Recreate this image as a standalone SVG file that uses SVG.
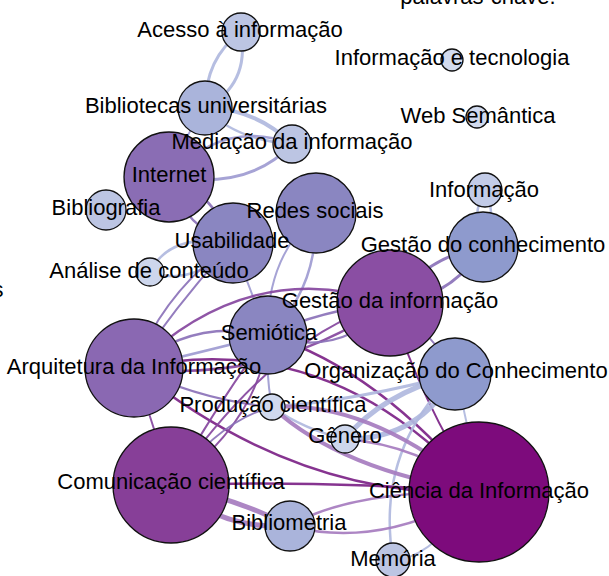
<svg xmlns="http://www.w3.org/2000/svg" width="609" height="576" viewBox="0 0 609 576">
<style>
.e{fill:none;stroke-linecap:round;opacity:0.92}
.lb{stroke:#b0b8de}
.lv{stroke:#9e9bd1}
.pm{stroke:#8b72b8}
.pd{stroke:#86469e}
.dk{stroke:#7c2387}
.mv{stroke:#a67cbf}
.n{stroke:#111;stroke-width:1.3}
text{font-family:"Liberation Sans",Arial,sans-serif;font-size:22px;fill:#000;text-anchor:middle}
</style>
<rect width="609" height="576" fill="#fff"/>
<g id="connectors">
<path class="e lb" stroke-width="3" d="M241,32 Q205,58 205,108"/>
<path class="e lb" stroke-width="3" d="M241,32 Q250,85 205,108"/>
<path class="e lb" stroke-width="4" d="M205,108 Q255,108 292,144"/>
<path class="e lb" stroke-width="2.5" d="M205,108 Q235,140 292,144"/>
<path class="e lv" stroke-width="2.5" d="M169,177 Q225,118 292,144"/>
<path class="e lv" stroke-width="3" d="M169,177 Q250,190 292,144"/>
<path class="e lv" stroke-width="2" d="M205,108 Q185,135 169,177"/>
<path class="e pm" stroke-width="2.5" d="M169,177 Q215,195 233,243"/>
<path class="e pm" stroke-width="2.5" d="M169,177 Q185,230 233,243"/>
<path class="e lb" stroke-width="2.5" d="M150,272 Q170,232 233,243"/>
<path class="e lb" stroke-width="2.5" d="M150,272 Q195,288 233,243"/>
<path class="e lv" stroke-width="2" d="M233,243 Q250,290 268,335"/>
<path class="e lv" stroke-width="2.5" d="M316,213 Q318,290 268,335"/>
<path class="e lv" stroke-width="2" d="M316,213 Q265,260 268,335"/>
<path class="e pm" stroke-width="3" d="M390,303 Q430,255 483,247"/>
<path class="e pm" stroke-width="3" d="M390,303 Q450,300 483,247"/>
<path class="e lb" stroke-width="2.5" d="M483,247 Q470,215 485,190"/>
<path class="e lb" stroke-width="2.5" d="M483,247 Q498,215 485,190"/>
<path class="e pm" stroke-width="2" d="M390,303 Q430,330 455,374"/>
<path class="e pm" stroke-width="2.5" d="M134,368 Q190,318 268,335"/>
<path class="e lv" stroke-width="2.5" d="M134,368 Q210,350 268,335"/>
<path class="e pm" stroke-width="2" d="M134,368 Q180,300 233,243"/>
<path class="e pm" stroke-width="2" d="M134,368 Q165,290 233,243"/>
<path class="e pd" stroke-width="2.5" d="M134,368 Q250,255 390,303"/>
<path class="e pd" stroke-width="2.5" d="M134,368 Q270,385 390,303"/>
<path class="e pm" stroke-width="2.5" d="M268,335 Q320,310 390,303"/>
<path class="e pm" stroke-width="2" d="M268,335 Q340,360 390,303"/>
<path class="e dk" stroke-width="2.5" d="M134,368 Q330,325 479,492"/>
<path class="e dk" stroke-width="2.5" d="M268,335 Q380,370 479,492"/>
<path class="e dk" stroke-width="2" d="M390,303 Q420,400 479,492"/>
<path class="e lb" stroke-width="2" d="M455,374 Q470,430 479,492"/>
<path class="e lb" stroke-width="2.5" d="M455,374 Q375,450 393,560"/>
<path class="e lb" stroke-width="2" d="M393,560 Q430,560 479,492"/>
<path class="e lb" stroke-width="5" d="M345,439 Q380,395 455,374"/>
<path class="e lb" stroke-width="5" d="M345,439 Q420,440 455,374"/>
<path class="e lb" stroke-width="2.5" d="M272,407 Q305,430 345,439"/>
<path class="e lb" stroke-width="3" d="M272,407 Q360,400 455,374"/>
<path class="e mv" stroke-width="4" d="M272,407 Q370,400 479,492"/>
<path class="e mv" stroke-width="4" d="M272,407 Q340,470 479,492"/>
<path class="e dk" stroke-width="2.5" d="M171,485 Q320,480 479,492"/>
<path class="e dk" stroke-width="2.5" d="M134,368 Q300,500 479,492"/>
<path class="e pd" stroke-width="2" d="M134,368 Q155,430 171,485"/>
<path class="e pm" stroke-width="2" d="M134,368 Q200,400 272,407"/>
<path class="e pd" stroke-width="2" d="M171,485 Q220,400 268,335"/>
<path class="e pd" stroke-width="2" d="M171,485 Q260,420 268,335"/>
<path class="e pd" stroke-width="2" d="M171,485 Q280,330 390,303"/>
<path class="e pm" stroke-width="2" d="M171,485 Q220,420 272,407"/>
<path class="e mv" stroke-width="5" d="M171,485 Q240,500 290,526"/>
<path class="e mv" stroke-width="5" d="M171,485 Q220,530 290,526"/>
<path class="e mv" stroke-width="2.5" d="M290,526 Q350,490 479,492"/>
<path class="e mv" stroke-width="2.5" d="M290,526 Q380,550 479,492"/>
<path class="e lv" stroke-width="2" d="M272,407 Q265,370 268,335"/>
<path class="e mv" stroke-width="2.5" d="M345,439 Q420,445 479,492"/>
</g>
<g id="node-acesso"><circle class="n" cx="241" cy="32" r="19" fill="#bcc5e3"/></g>
<g id="node-bibliotecas"><circle class="n" cx="205" cy="108" r="27" fill="#aab4db"/></g>
<g id="node-mediacao"><circle class="n" cx="292" cy="144" r="19" fill="#bcc5e3"/></g>
<g id="node-internet"><circle class="n" cx="169" cy="177" r="45" fill="#8a6db4"/></g>
<g id="node-bibliografia"><circle class="n" cx="106" cy="210" r="20" fill="#bcc5e3"/></g>
<g id="node-redes"><circle class="n" cx="316" cy="213" r="40" fill="#8a86c1"/></g>
<g id="node-usabilidade"><circle class="n" cx="233" cy="243" r="40" fill="#8a86c1"/></g>
<g id="node-analise"><circle class="n" cx="150" cy="272" r="14" fill="#cdd6ec"/></g>
<g id="node-info-tec"><circle class="n" cx="452" cy="60" r="11" fill="#d2dbef"/></g>
<g id="node-web"><circle class="n" cx="477" cy="117" r="11" fill="#d2dbef"/></g>
<g id="node-informacao"><circle class="n" cx="485" cy="190" r="17" fill="#c2cbe7"/></g>
<g id="node-gestao-conhecimento"><circle class="n" cx="483" cy="247" r="35" fill="#8e9acd"/></g>
<g id="node-gestao-informacao"><circle class="n" cx="390" cy="303" r="53" fill="#8a4ea3"/></g>
<g id="node-semiotica"><circle class="n" cx="268" cy="335" r="39" fill="#8a86c1"/></g>
<g id="node-arquitetura"><circle class="n" cx="134" cy="368" r="49" fill="#8a68b2"/></g>
<g id="node-organizacao"><circle class="n" cx="455" cy="374" r="36" fill="#8e9acd"/></g>
<g id="node-producao"><circle class="n" cx="272" cy="407" r="13" fill="#d0d9ee"/></g>
<g id="node-genero"><circle class="n" cx="345" cy="439" r="14" fill="#cdd6ec"/></g>
<g id="node-comunicacao"><circle class="n" cx="171" cy="485" r="58" fill="#873f98"/></g>
<g id="node-ciencia"><circle class="n" cx="479" cy="492" r="70" fill="#7d0b7c"/></g>
<g id="node-bibliometria"><circle class="n" cx="290" cy="526" r="25" fill="#aab4db"/></g>
<g id="node-memoria"><circle class="n" cx="393" cy="560" r="17" fill="#bcc5e3"/></g>
<g id="labels">
<text x="478" y="4">palavras-chave.</text>
<text x="-2" y="297">s</text>
<text x="240" y="37">Acesso à informação</text>
<text x="206" y="113">Bibliotecas universitárias</text>
<text x="292" y="149">Mediação da informação</text>
<text x="169" y="182">Internet</text>
<text x="106" y="215">Bibliografia</text>
<text x="232" y="248">Usabilidade</text>
<text x="315" y="218">Redes sociais</text>
<text x="149" y="278">Análise de conteúdo</text>
<text x="452" y="65">Informação e tecnologia</text>
<text x="478" y="123">Web Semântica</text>
<text x="484" y="197">Informação</text>
<text x="483" y="252">Gestão do conhecimento</text>
<text x="390" y="308">Gestão da informação</text>
<text x="269" y="340">Semiótica</text>
<text x="134" y="374">Arquitetura da Informação</text>
<text x="456" y="378">Organização do Conhecimento</text>
<text x="273" y="412">Produção científica</text>
<text x="345" y="443">Gênero</text>
<text x="171" y="489">Comunicação científica</text>
<text x="479" y="498">Ciência da Informação</text>
<text x="289" y="530">Bibliometria</text>
<text x="393" y="566">Memória</text>
</g>
</svg>
